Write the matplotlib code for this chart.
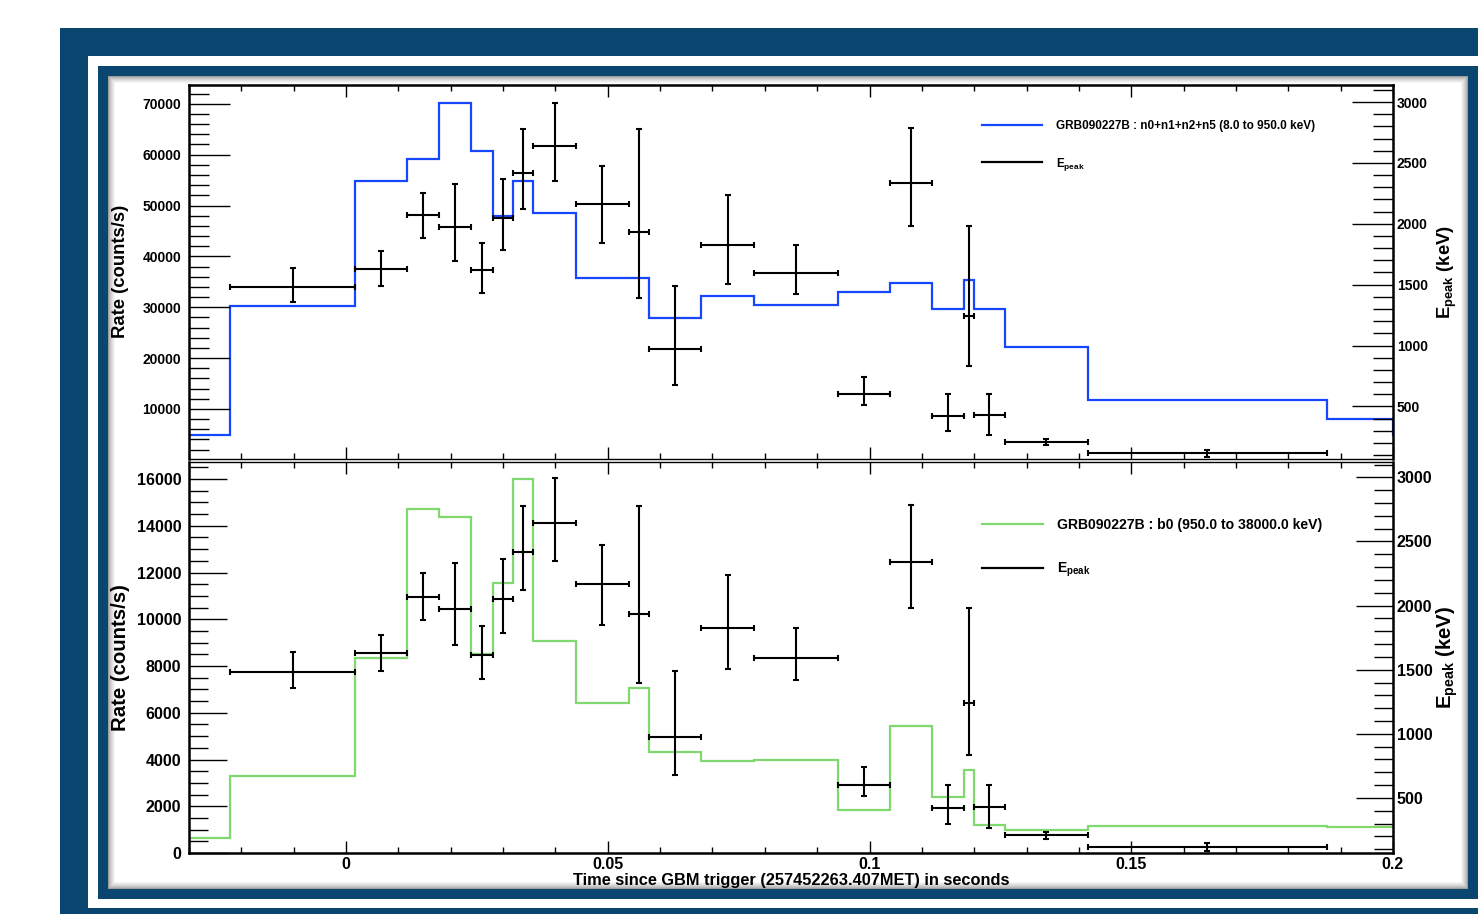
import numpy as np
import matplotlib
matplotlib.use("Agg")
import matplotlib.pyplot as plt
from matplotlib.patches import Rectangle
from matplotlib.lines import Line2D
from matplotlib.ticker import MultipleLocator, FuncFormatter

# time bin edges (s since trigger), shared by both detectors
edges = [-0.03, -0.0222, 0.0018, 0.0117, 0.0178, 0.0238, 0.0280, 0.0318, 0.0358,
         0.0439, 0.0540, 0.0579, 0.0679, 0.0780, 0.0940, 0.1040, 0.1120, 0.1180,
         0.1199, 0.1258, 0.1418, 0.1873, 0.2000, 0.2100]

# NaI n0+n1+n2+n5 rate (counts/s)
rate_nai = [4960, 30250, 54800, 59200, 70100, 60800, 47900, 54900, 48600, 35700,
            35700, 27800, 32200, 30500, 33000, 34700, 29700, 35300, 29600, 22200,
            11800, 8000, 4900]

# BGO b0 rate (counts/s)
rate_bgo = [640, 3280, 8340, 14720, 14390, 8510, 11540, 16000, 9050, 6410,
            7040, 4340, 3920, 3980, 1820, 5440, 2380, 3560, 1210, 1000,
            1140, 1100, 1100]

# Epeak (keV) for the fitted intervals, with upper / lower error ends
epeak = [1483, 1628, 2070, 1977, 1617, 2051, 2420, 2643, 2166, 1933,
         973, 1827, 1592, 604, 2338, 422, 1240, 427, 209, 115]
epeak_up = [1636, 1773, 2256, 2329, 1841, 2365, 2780, 2993, 2474, 2780,
            1491, 2239, 1827, 741, 2788, 604, 1982, 599, 236, 145]
epeak_dn = [1360, 1491, 1887, 1696, 1431, 1783, 2125, 2348, 1846, 1393,
            678, 1502, 1421, 514, 1982, 299, 831, 263, 181, 85]

label_nai = "GRB090227B : n0+n1+n2+n5 (8.0 to 950.0 keV)"
label_bgo = "GRB090227B : b0 (950.0 to 38000.0 keV)"
xlabel = "Time since GBM trigger (257452263.407MET) in seconds"

plt.rcParams['font.family'] = ['Liberation Sans', 'DejaVu Sans']
plt.rcParams['font.weight'] = 'bold'
plt.rcParams['axes.labelweight'] = 'bold'
plt.rcParams['mathtext.fontset'] = 'custom'
plt.rcParams['mathtext.rm'] = 'Liberation Sans:bold'
plt.rcParams['mathtext.bf'] = 'Liberation Sans:bold'
plt.rcParams['mathtext.it'] = 'Liberation Sans:bold'

W, H = 1478, 914
fig = plt.figure(figsize=(W / 100, H / 100), dpi=100)
fig.patch.set_facecolor('white')

frame_blue = '#0b4670'


def px_rect(x0, y0, x1, y1, color):
    # rectangle given in pixels from the top-left corner
    r = Rectangle((x0 / W, 1 - y1 / H), (x1 - x0) / W, (y1 - y0) / H,
                  transform=fig.transFigure, facecolor=color, edgecolor='none',
                  zorder=-10)
    fig.add_artist(r)


# canvas frame
px_rect(60, 28, W + 5, H + 5, frame_blue)
px_rect(88, 56, W + 5, 908, 'white')
px_rect(98, 66, W + 5, 899, frame_blue)
# panel with a soft inner shadow
for i in range(8):
    g = 0.62 + 0.38 * (i / 7) ** 0.7
    px_rect(108 + i, 76 + i, 1468 - i, 889 - i, (g, g, g))


def axes_px(x0, y0, x1, y1):
    return fig.add_axes([x0 / W, 1 - y1 / H, (x1 - x0) / W, (y1 - y0) / H])


ax_top = axes_px(189, 85, 1393, 458.5)
ax_bot = axes_px(189, 461.5, 1393, 853)

t_lo = np.array(edges[1:21])
t_hi = np.array(edges[2:22])
t_mid = (t_lo + t_hi) / 2
ep = np.array(epeak)
ep_err = [ep - np.array(epeak_dn), np.array(epeak_up) - ep]

panels = [
    (ax_top, rate_nai, '#1746ff', label_nai, (250, 73700), 10000, 2000, (72, 3140),
     10.0, 13.3, 8.5, 5.1, 1.2, 2.0, 0.906),
    (ax_bot, rate_bgo, '#80d96f', label_bgo, (0, 16750), 2000, 500, (70, 3124),
     11.5, 14.7, 10.1, 4.36, 1.0, 2.05, 0.855),
]

for (ax, rate, col, lab, ylim, maj, mnr, ylim2, tfs, lfs, legfs,
     hlen, hpad, lspace, legy) in panels:
    h = ax.stairs(rate, edges, color=col, lw=1.6, baseline=None)
    ax.set_xlim(-0.03, 0.2)
    ax.set_ylim(*ylim)
    ax.yaxis.set_major_locator(MultipleLocator(maj))
    ax.yaxis.set_minor_locator(MultipleLocator(mnr))
    ax.xaxis.set_major_locator(MultipleLocator(0.05))
    ax.xaxis.set_minor_locator(MultipleLocator(0.01))
    ax.xaxis.set_major_formatter(FuncFormatter(lambda v, p: '%g' % round(v, 4)))
    ax.tick_params(axis='x', which='both', direction='in', top=True, bottom=True,
                   labelsize=tfs, pad=3)
    ax.tick_params(axis='x', which='major', length=8.6, width=1)
    ax.tick_params(axis='x', which='minor', length=4.3, width=1)
    lm = 29.5 if ax is ax_top else 27
    ax.tick_params(axis='y', which='both', direction='in', left=True, right=False,
                   labelsize=tfs, pad=5.5)
    ax.tick_params(axis='y', which='major', length=lm, width=1)
    ax.tick_params(axis='y', which='minor', length=lm / 2, width=1)
    ax.set_ylabel('Rate (counts/s)', fontsize=lfs, va='center')
    ax.yaxis.set_label_coords(-0.0573, 0.5)

    ax2 = ax.twinx()
    ax2.set_ylim(*ylim2)
    ax2.yaxis.set_major_locator(MultipleLocator(500))
    ax2.yaxis.set_minor_locator(MultipleLocator(100))
    ax2.tick_params(axis='y', which='both', direction='in', right=True, left=False,
                    labelsize=tfs, pad=2.7)
    ax2.tick_params(axis='y', which='major', length=lm, width=1)
    ax2.tick_params(axis='y', which='minor', length=lm / 2, width=1)
    ax2.errorbar(t_mid, ep, yerr=ep_err, xerr=[t_mid - t_lo, t_hi - t_mid],
                 fmt='none', ecolor='black', elinewidth=1.5, capsize=2,
                 capthick=1.5)
    ax2.set_ylabel(r'E$_{\mathrm{peak}}$ (keV)', fontsize=lfs, va='center')
    ax2.yaxis.set_label_coords(1.0449, 0.5)

    # spines: the twin draws the frame, the base axes draws none
    for s in ax.spines.values():
        s.set_visible(False)
    for s in ax2.spines.values():
        s.set_linewidth(1.8)

    proxy = Line2D([], [], color='black', lw=1.6)
    ax2.legend([h, proxy], [lab, r'E$_{\mathrm{peak}}$'], loc='upper left',
               bbox_to_anchor=(0.6586, legy), frameon=False, fontsize=legfs,
               handlelength=hlen, handletextpad=hpad, labelspacing=lspace,
               borderpad=0, borderaxespad=0)
    ax.ax2 = ax2

ax_top.ax2.spines['bottom'].set_linewidth(1.0)
ax_bot.ax2.spines['top'].set_linewidth(1.0)

ax_top.tick_params(axis='x', labelbottom=False)
ax_bot.set_xlabel(xlabel, fontsize=11.8, va='center')
ax_bot.xaxis.set_label_coords(0.5, -0.069)

fig.savefig('out.png', dpi=100)
